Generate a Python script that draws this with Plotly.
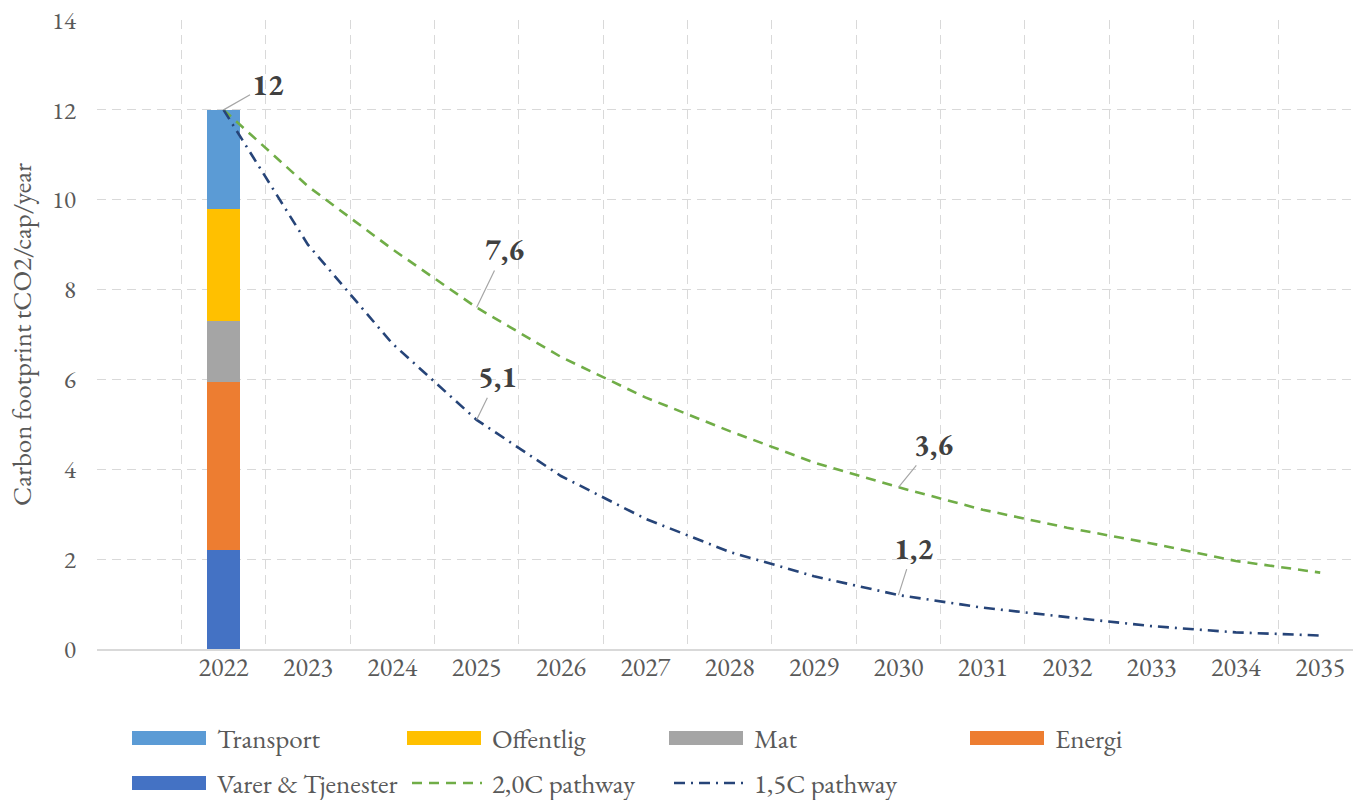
import plotly.graph_objects as go

# ---------------- data ----------------
years = [2022, 2023, 2024, 2025, 2026, 2027, 2028, 2029, 2030, 2031, 2032, 2033, 2034, 2035]
sector_names = ["Varer & Tjenester", "Energi", "Mat", "Offentlig", "Transport"]
sector_values_2022 = [2.2, 3.75, 1.35, 2.5, 2.2]
sector_colors = ["#4472C4", "#ED7D31", "#A5A5A5", "#FFC000", "#5B9BD5"]

pathway_20 = [12.0, 10.3, 8.9, 7.6, 6.5, 5.6, 4.85, 4.15, 3.6, 3.1, 2.7, 2.35, 1.96, 1.7]
pathway_15 = [12.0, 9.0, 6.8, 5.1, 3.85, 2.9, 2.16, 1.62, 1.2, 0.92, 0.71, 0.51, 0.37, 0.3]
label_years = [2022, 2025, 2030]

FONT = "Garamond, 'EB Garamond', 'Liberation Serif', 'Times New Roman', serif"
GRAY_TXT = "#595959"
GRID = "#D9D9D9"

xpos = [i + 1 for i in range(len(years))]  # category 0 is an empty slot

fig = go.Figure()
for name, val, col in zip(sector_names, sector_values_2022, sector_colors):
    fig.add_trace(go.Bar(x=[xpos[0]], y=[val], name=name, marker_color=col,
                         marker_line_width=0, width=0.4, showlegend=False))

fig.add_trace(go.Scatter(x=xpos, y=pathway_20, mode="lines", name="2,0C pathway",
                         line=dict(color="#70AD47", width=2.6, dash="10px,7px"), showlegend=False))
fig.add_trace(go.Scatter(x=xpos, y=pathway_15, mode="lines", name="1,5C pathway",
                         line=dict(color="#264478", width=2.6, dash="11px,6px,2px,6px"), showlegend=False))

# ---------------- data labels ----------------
def fmt(v):
    s = ("%.1f" % v).replace(".", ",")
    return s[:-2] if s.endswith(",0") else s

lab_font = dict(family=FONT, size=30, color="#404040")
offsets_20 = {2022: (44, -25), 2025: (28, -58), 2030: (35, -43)}
offsets_15 = {2025: (21, -43), 2030: (15, -47)}
for yr in label_years:
    i = years.index(yr)
    if yr in offsets_20:
        ax, ay = offsets_20[yr]
        fig.add_annotation(x=xpos[i], y=pathway_20[i], text="<b>%s</b>" % fmt(pathway_20[i]),
                           showarrow=True, arrowhead=0, arrowwidth=1.2, arrowcolor="#A6A6A6",
                           ax=ax, ay=ay, standoff=0, font=lab_font)
    if yr in offsets_15:
        ax, ay = offsets_15[yr]
        fig.add_annotation(x=xpos[i], y=pathway_15[i], text="<b>%s</b>" % fmt(pathway_15[i]),
                           showarrow=True, arrowhead=0, arrowwidth=1.2, arrowcolor="#A6A6A6",
                           ax=ax, ay=ay, standoff=0, font=lab_font)

# ---------------- custom legend ----------------
W, H = 1353, 800
L, T, B = 97, 20, 649
PW, PH = W - L, B - T
def px(x):
    return (x - L) / PW
def py(y):
    return (B - y) / PH

legend_items = [
    ("Transport", "bar", "#5B9BD5", None),
    ("Offentlig", "bar", "#FFC000", None),
    ("Mat", "bar", "#A5A5A5", None),
    ("Energi", "bar", "#ED7D31", None),
    ("Varer & Tjenester", "bar", "#4472C4", None),
    ("2,0C pathway", "line", "#70AD47", "10px,7px"),
    ("1,5C pathway", "line", "#264478", "11px,6px,2px,6px"),
]
text_cols = [215, 490, 752, 1053]
row_y = [738, 783]
for k, (name, kind, col, dash) in enumerate(legend_items):
    r, c = divmod(k, 4)
    tx, ty = text_cols[c], row_y[r]
    if kind == "bar":
        fig.add_shape(type="rect", xref="paper", yref="paper",
                      x0=px(tx - 83), x1=px(tx - 9), y0=py(ty - 7), y1=py(ty + 7),
                      fillcolor=col, line_width=0)
    else:
        fig.add_shape(type="line", xref="paper", yref="paper",
                      x0=px(tx - 78), x1=px(tx - 8), y0=py(ty), y1=py(ty),
                      line=dict(color=col, width=2.6, dash=dash))
    fig.add_annotation(xref="paper", yref="paper", x=px(tx), y=py(ty), text=name,
                       showarrow=False, xanchor="left", yanchor="middle",
                       font=dict(family=FONT, size=27, color=GRAY_TXT))

fig.update_layout(
    width=W, height=H,
    margin=dict(l=L, r=0, t=T, b=H - B),
    barmode="stack",
    plot_bgcolor="white", paper_bgcolor="white",
    font=dict(family=FONT, color=GRAY_TXT),
    showlegend=False,
)
fig.update_xaxes(
    range=[-0.5, -0.5 + PW / 84.36],
    tickmode="array", tickvals=xpos, ticktext=[str(y) for y in years],
    tickfont=dict(family=FONT, size=26, color=GRAY_TXT),
    showgrid=False, zeroline=False,
    showline=True, linecolor=GRID, linewidth=1.5,
    ticks="", ticklabelstandoff=-6, ticklabeloverflow="allow",
    minor=dict(tickmode="linear", tick0=-0.5, dtick=1, showgrid=True,
               gridcolor=GRID, griddash="9px,6px", gridwidth=1.4, ticks=""),
)
fig.update_yaxes(
    range=[0, 14], tickmode="linear", tick0=0, dtick=2,
    tickfont=dict(family=FONT, size=25, color=GRAY_TXT),
    showgrid=True, gridcolor=GRID, griddash="9px,6px", gridwidth=1.4,
    zeroline=False, showline=False, ticks="", ticklabelstandoff=20,
    ticklabeloverflow="allow",
    title=dict(text="Carbon footprint tCO2/cap/year",
               font=dict(family=FONT, size=27, color=GRAY_TXT), standoff=12),
)

fig.write_html("out.html", config={"displayModeBar": False},
               post_script="document.body.style.margin='0';document.body.style.overflow='hidden';")
